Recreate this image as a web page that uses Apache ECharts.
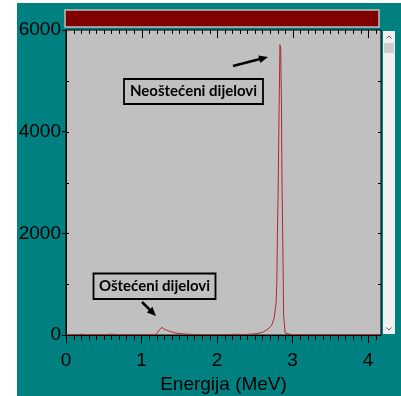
<!DOCTYPE html>
<html>
<head>
<meta charset="utf-8">
<script src="https://cdn.jsdelivr.net/npm/echarts@6/dist/echarts.min.js"></script>
<style>
html,body{margin:0;padding:0;background:#fff;}
#c{width:401px;height:396px;}
</style>
</head>
<body>
<div id="c"></div>
<script>
// Energy (MeV) and counts
var energy = [0.00,0.10,0.18,0.21,0.24,0.30,0.40,0.50,0.57,0.60,0.64,0.70,0.80,0.90,1.00,1.10,1.18,1.21,1.24,1.27,1.30,1.34,1.38,1.42,1.48,1.55,1.62,1.70,1.80,1.90,2.00,2.10,2.20,2.26,2.32,2.40,2.48,2.55,2.61,2.675,2.725,2.755,2.781,2.791,2.799,2.808,2.817,2.825,2.832,2.842,2.852,2.858,2.870,2.881,2.901,2.914,3.00,3.10,3.20,3.30,3.40,3.50,3.60,3.70,3.80,3.90,4.00,4.10,4.17];
var counts = [2,4,6,18,8,5,4,6,14,16,12,5,4,6,5,6,8,40,110,150,115,90,70,48,32,22,15,10,8,7,8,6,12,15,9,12,20,35,59,118,196,334,628,1040,2020,2790,3930,4850,5710,5630,4570,3200,1830,390,40,5,3,8,5,6,4,7,4,3,2,2,2,2,2];
var xTicks = [0,1,2,3,4];
var yTicks = [0,2000,4000,6000];
var xMinorStep = 0.1;
var yMinorTicks = [1000,2000,3000,4000,5000];
var xMax = 4.17, yMax = 6000;
var xTitle = 'Energija (MeV)';
var note1 = 'Neoštećeni dijelovi';
var note2 = 'Oštećeni dijelovi';

var pts = energy.map(function(e,i){return [e, counts[i]];});
// tick marks: [x, y, side(0 bottom,1 top,2 left,3 right), length]
var tickData = [];
for (var i = 0; i * xMinorStep <= xMax + 1e-9; i++) {
  var v = Math.round(i * xMinorStep * 10) / 10;
  var major = xTicks.indexOf(v) >= 0;
  if (!major) tickData.push([v, 0, 0, 5]);
  tickData.push([v, yMax, 1, major ? 8 : 4]);
}
yMinorTicks.forEach(function(y){
  tickData.push([0, y, 2, 3]);
  tickData.push([xMax, y, 3, 3]);
});

var chart = echarts.init(document.getElementById('c'), null, {renderer:'canvas'});
var font = '"Liberation Sans", Arial, sans-serif';
var graphics = [
  {type:'rect',z:-10,silent:true,shape:{x:17,y:3,width:384,height:393},style:{fill:'#008080'}},
  {type:'rect',z:-5,silent:true,shape:{x:66,y:30,width:315,height:305},style:{fill:'#c0c0c0'}},
  {type:'rect',z:5,shape:{x:65,y:10,width:314,height:17},style:{fill:'#800000',stroke:'#bdbdbd',lineWidth:1.5}},
  {type:'rect',z:5,shape:{x:383,y:31,width:12,height:303},style:{fill:'#f0f0f0'}},
  {type:'rect',z:6,shape:{x:384,y:43,width:10,height:10},style:{fill:'#cdcdcd'}},
  {type:'polyline',z:7,shape:{points:[[386.5,38.5],[389,36],[391.5,38.5]]},style:{stroke:'#606060',lineWidth:1,fill:null}},
  {type:'polyline',z:7,shape:{points:[[386.5,327.5],[389,330],[391.5,327.5]]},style:{stroke:'#606060',lineWidth:1,fill:null}},
  {type:'rect',z:8,shape:{x:124,y:79,width:139,height:25},style:{fill:'#c0c0c0',stroke:'#000',lineWidth:1.8}},
  {type:'text',z:9,x:193.5,y:91.5,style:{text:note1,fill:'#000',font:'bold 15px Lato, "Open Sans", sans-serif',align:'center',verticalAlign:'middle'}},
  {type:'line',z:9,shape:{x1:233,y1:66,x2:260,y2:59},style:{stroke:'#000',lineWidth:2.5}},
  {type:'polygon',z:9,shape:{points:[[268,57],[260.3,63.1],[258.3,55.4]]},style:{fill:'#000'}},
  {type:'rect',z:8,shape:{x:93.5,y:273.5,width:122,height:25.5},style:{fill:'#c0c0c0',stroke:'#000',lineWidth:1.8}},
  {type:'text',z:9,x:154.5,y:286,style:{text:note2,fill:'#000',font:'bold 15px Lato, "Open Sans", sans-serif',align:'center',verticalAlign:'middle'}},
  {type:'line',z:9,shape:{x1:142,y1:302,x2:150,y2:310},style:{stroke:'#000',lineWidth:2.5}},
  {type:'polygon',z:9,shape:{points:[[156,316],[146.8,312.4],[152.4,306.8]]},style:{fill:'#000'}}
];
var opt = {
  animation:false,
  backgroundColor:'#ffffff',
  grid:{left:66,right:20,top:30,bottom:61,outerBoundsMode:'none',containLabel:false,show:true,backgroundColor:'transparent',borderColor:'#000',borderWidth:1},
  xAxis:{
    type:'value',min:0,max:xMax,interval:1,position:'bottom',
    axisLine:{show:true,lineStyle:{color:'#000',width:1}},
    axisTick:{show:true,length:8,lineStyle:{color:'#000'}},
    splitLine:{show:false},
    axisLabel:{color:'#000',fontSize:19,fontFamily:font,margin:16,showMaxLabel:false,
      formatter:function(v){return xTicks.indexOf(v)>=0?String(v):'';}},
    name:xTitle,nameLocation:'middle',nameGap:37,
    nameTextStyle:{color:'#000',fontSize:19,fontFamily:font,verticalAlign:'top'}
  },
  yAxis:{
    type:'value',min:0,max:yMax,interval:2000,position:'left',
    axisLine:{show:true,lineStyle:{color:'#000'}},
    axisTick:{show:true,length:4,lineStyle:{color:'#000'}},
    splitLine:{show:false},
    axisLabel:{color:'#000',fontSize:19,fontFamily:font,margin:5,
      formatter:function(v){return yTicks.indexOf(v)>=0?String(v):'';}}
  },
  series:[{
    type:'line',data:pts,
    showSymbol:false,symbol:'none',
    lineStyle:{color:'#ad2b2b',width:1},
    z:4,clip:true
  }],
  graphic:graphics
};
chart.setOption(opt);

// tick marks placed through the chart's own scales, drawn as 1px rects
var tickGraphics = [];
try {
  tickGraphics = tickData.map(function(t){
    var p = chart.convertToPixel({gridIndex:0}, [t[0], t[1]]);
    var x = Math.round(p[0]), y = Math.round(p[1]), len = t[3], r;
    if (t[2] === 0) r = {x:x, y:y, width:1, height:len};
    else if (t[2] === 1) r = {x:x, y:y, width:1, height:len};
    else if (t[2] === 2) r = {x:x, y:y, width:len, height:1};
    else r = {x:x - len, y:y, width:len, height:1};
    return {type:'rect',z:20,silent:true,shape:r,style:{fill:'#000'}};
  });
} catch (e) { tickGraphics = []; }
chart.setOption({graphic:graphics.concat(tickGraphics)});
</script>
</body>
</html>
